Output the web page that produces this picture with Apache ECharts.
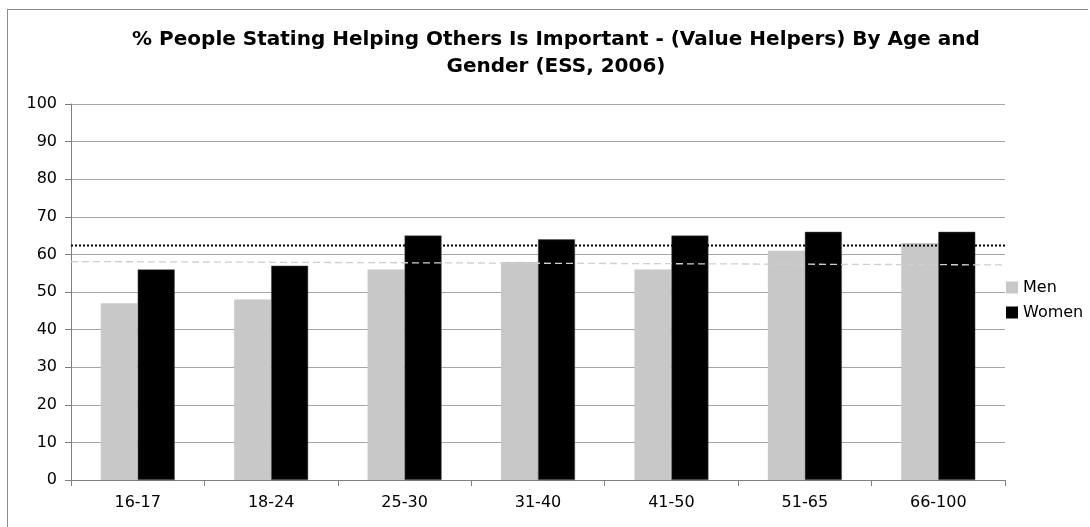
<!DOCTYPE html>
<html><head><meta charset="utf-8">
<script src="https://cdn.jsdelivr.net/npm/echarts@6/dist/echarts.min.js"></script>
<style>html,body{margin:0;padding:0;background:#fff;}
#frame{position:absolute;left:7px;top:9px;width:1080px;height:520px;border:1px solid #8c8c8c;border-right:none;border-bottom:none;}
#c{position:absolute;left:0;top:0;width:1090px;height:527px;}</style>
</head><body>
<div id="frame"></div>
<div id="c"></div>
<script>
const categories = ['16-17','18-24','25-30','31-40','41-50','51-65','66-100'];
const men = [47, 48, 56, 58, 56, 61, 63];
const women = [56, 57, 65, 64, 65, 66, 66];
const menAvgLine = [58.1, 57.2];   // dashed grey reference line, left end / right end
const womenAvgLine = [62.4, 62.4]; // dotted black reference line
const yTicks = [0,10,20,30,40,50,60,70,80,90,100];

const chart = echarts.init(document.getElementById('c'));
const font = "'DejaVu Sans', Verdana, sans-serif";
chart.setOption({
  animation:false,
  title:{text:'% People Stating Helping Others Is Important - (Value Helpers) By Age and\nGender (ESS, 2006)',
    left:551, top:21, textAlign:'center',
    textStyle:{fontFamily:font,fontWeight:'bold',fontSize:20,color:'#000',lineHeight:27}},
  legend:{orient:'vertical', left:1006, top:278, padding:0, itemWidth:12, itemHeight:12, itemGap:6,
    icon:'rect', itemStyle:{borderWidth:0},
    textStyle:{fontFamily:font,fontSize:16,color:'#000',padding:[0,0,0,0],lineHeight:19},
    data:['Men','Women']},
  grid:{left:71, right:85, top:104, bottom:47},
  xAxis:[{type:'category', data:categories,
    axisLine:{lineStyle:{color:'#808080',width:1}},
    axisTick:{show:true,length:6,lineStyle:{color:'#808080'}},
    axisLabel:{fontFamily:font,fontSize:16,color:'#000',margin:15}},
   {type:'value', min:0, max:7, show:false}],
  yAxis:{type:'value', min:0, max:100, interval:10,
    axisLine:{show:true,lineStyle:{color:'#808080'}},
    axisTick:{show:true,length:6,lineStyle:{color:'#808080'}},
    splitLine:{lineStyle:{color:'#a6a6a6'}},
    axisLabel:{fontFamily:font,fontSize:16,color:'#000',margin:14}},
  series:[
    {name:'Men', type:'bar', data:men, barWidth:37, barGap:'0%',
     itemStyle:{color:'#c8c8c8'}},
    {name:'Women', type:'bar', data:women, barWidth:37, barGap:'0%',
     itemStyle:{color:'#000', borderColor:'#555', borderWidth:0.5}},
    {name:'menAvg', type:'line', xAxisIndex:1, data:[[0,menAvgLine[0]],[7,menAvgLine[1]]],
     symbol:'none', lineStyle:{color:'#cfcfcf', width:1.3, type:[7,4]}, silent:true, z:5},
    {name:'womenAvg', type:'line', xAxisIndex:1, data:[[0,womenAvgLine[0]],[7,womenAvgLine[1]]],
     symbol:'none', lineStyle:{color:'#000', width:2, type:[2,2]}, silent:true, z:5}
  ]
});
</script>
</body></html>
